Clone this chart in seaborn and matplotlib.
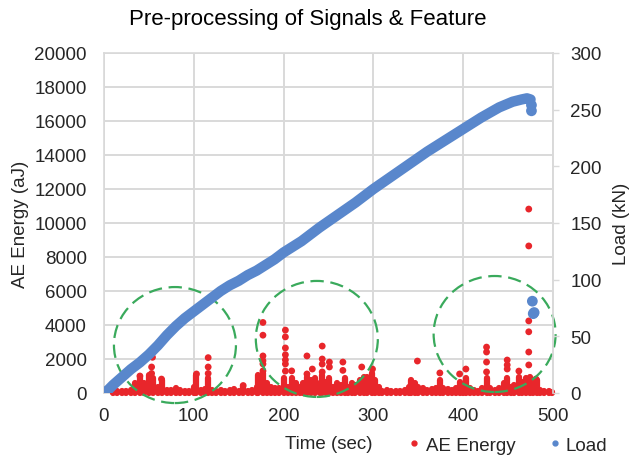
import matplotlib
matplotlib.use("Agg")
import matplotlib.pyplot as plt
import seaborn as sns
import pandas as pd
from matplotlib.patches import Ellipse
from matplotlib.lines import Line2D

# ---------------- data ----------------
band_time = [10, 15, 20, 25, 30, 35, 40, 45, 50, 55, 60, 65, 70, 75, 80, 85, 90, 95, 100, 103,
             108, 112, 116, 120, 125, 130, 135, 140, 145, 150, 155, 160, 165, 170, 172, 177, 182, 186, 190, 195,
             200, 205, 209, 214, 218, 222, 226, 230, 235, 240, 243, 247, 251, 255, 260, 264, 268, 272, 276, 280,
             285, 289, 293, 298, 302, 306, 310, 315, 320, 325, 330, 335, 340, 342, 346, 350, 355, 360, 365, 370,
             374, 378, 383, 388, 392, 396, 400, 403, 408, 412, 417, 421, 426, 430, 435, 440, 445, 449, 453, 457,
             462, 466, 470, 474, 478, 482, 486, 490, 495, 499]
band_energy = [60, 90, 90, 120, 170, 560, 950, 560, 1050, 860, 370, 760, 170, 170, 310, 170, 100, 120, 370, 1050,
               170, 230, 860, 170, 120, 170, 120, 150, 230, 130, 430, 120, 170, 370, 1050, 1150, 560, 370, 270, 270,
               860, 370, 860, 560, 370, 560, 950, 760, 860, 560, 1050, 660, 860, 370, 560, 470, 860, 370, 560, 470,
               760, 950, 950, 1150, 760, 370, 120, 170, 100, 120, 100, 170, 370, 760, 560, 370, 270, 170, 230, 270,
               760, 310, 230, 170, 270, 660, 310, 860, 270, 170, 130, 270, 860, 270, 170, 310, 560, 860, 370, 470,
               950, 660, 860, 950, 760, 760, 170, 100, 100, 80]

spike_time = [40, 53, 53, 54, 64, 103, 116, 116, 116, 155,
              177, 177, 177, 177, 177, 177, 202, 202, 202, 202, 202, 202, 202,
              209, 226, 226, 232, 243, 243, 243, 243, 251, 251, 266, 266, 287, 299,
              349, 374, 396, 403, 426, 426, 426, 426, 449, 449, 449, 462,
              473, 473, 473, 473, 473, 473, 476, 476, 479, 481]
spike_energy = [1000, 1150, 1530, 2100, 820, 1120, 2080, 1530, 1150, 440,
                4150, 3400, 2180, 1900, 1710, 1300, 3700, 3300, 2650, 2250, 1950, 1710, 1290,
                1300, 2180, 1120, 1410, 2760, 2000, 1700, 1240, 1820, 1530, 1820, 1330, 1530, 1410,
                1880, 1180, 1120, 1410, 2700, 2410, 1820, 1240, 1940, 1650, 1410, 1290,
                4240, 3600, 2410, 1650, 8650, 10820, 17300, 16600, 4700, 820]

load_time = [0, 5, 10, 20, 30, 40, 50, 60, 70, 80, 90, 100, 110, 120, 130, 140, 150, 160, 170, 180,
             190, 200, 210, 220, 240, 260, 280, 300, 320, 340, 360, 380, 400, 420, 440, 455, 465, 471, 475]
load_kn = [0, 3, 7, 14, 21, 27, 34, 42, 51, 59, 66, 72, 78, 84, 90, 95, 99, 104, 108, 113,
           118, 124, 129, 134, 146, 157, 168, 180, 191, 202, 213, 223, 233, 243, 252, 257, 259, 260, 259]
drop_time = [476, 476, 477, 478, 479]
drop_kn = [254, 249, 81, 70, 71]

x_ticks = [0, 100, 200, 300, 400, 500]
left_ticks = list(range(0, 20001, 2000))
right_ticks = list(range(0, 301, 50))

# ---------------- styling ----------------
sns.set_theme(style="white")
plt.rcParams['font.family'] = ['Liberation Sans', 'DejaVu Sans']

RED = '#e8262b'
BLUE = '#5987cc'
GREEN = '#3aaa5c'
GRID = '#d9d9d9'
TXT = '#262626'
FS = 13.5

fig = plt.figure(figsize=(6.29, 4.60), dpi=100)
ax = fig.add_axes([104 / 629, 66 / 460, 449 / 629, 340 / 460])
ax2 = ax.twinx()

ae_band = pd.DataFrame({'t': band_time, 'e': band_energy})
ae_spk = pd.DataFrame({'t': spike_time, 'e': spike_energy})
load_df = pd.DataFrame({'t': load_time, 'l': load_kn})
drop_df = pd.DataFrame({'t': drop_time, 'l': drop_kn})

# AE energy (left axis)
ax.vlines(ae_band['t'], 0, ae_band['e'], color=RED, linewidth=4.5, capstyle='round',
          zorder=3, clip_on=False)
sns.scatterplot(data=ae_spk, x='t', y='e', ax=ax, color=RED, s=24, edgecolor='none', zorder=4,
                clip_on=False)

# Load (right axis)
sns.lineplot(data=load_df, x='t', y='l', ax=ax2, color=BLUE, linewidth=7.5,
             solid_capstyle='round', zorder=3)
sns.scatterplot(data=drop_df, x='t', y='l', ax=ax2, color=BLUE, s=60, edgecolor='none', zorder=3)

ax.set_xlim(0, 500)
ax.set_ylim(0, 20000)
ax2.set_ylim(0, 300)
ax.set_xticks(x_ticks)
ax.set_yticks(left_ticks)
ax2.set_yticks(right_ticks)

ax.grid(True, color=GRID, linewidth=1.4)
ax2.grid(False)
for s in ax.spines.values():
    s.set_color(GRID)
    s.set_linewidth(1.2)
for name, s in ax2.spines.items():
    if name == 'right':
        s.set_color(GRID)
        s.set_linewidth(1.2)
    else:
        s.set_visible(False)

ax.tick_params(axis='both', length=0, labelsize=FS, colors=TXT)
ax.tick_params(axis='y', pad=12.5)
ax.tick_params(axis='x', pad=10)
ax2.tick_params(axis='y', length=4, width=1, color=GRID, labelsize=FS, labelcolor=TXT, pad=8.5)

ax.set_xlabel('Time (sec)', fontsize=FS, color=TXT, labelpad=8)
ax.set_ylabel('AE Energy (aJ)', fontsize=FS, color=TXT, labelpad=4)
ax2.set_ylabel('Load (kN)', fontsize=FS, color=TXT, labelpad=8)

# dashed green circles
for cx, cy in [(79, 2820), (237, 3180), (435, 3470)]:
    ell = Ellipse((cx, cy), width=2 * 61 / 0.898, height=2 * 58 / 0.017, fill=False,
                  edgecolor=GREEN, linewidth=1.6, linestyle=(0, (6, 3)), clip_on=False, zorder=5)
    ax.add_patch(ell)

fig.suptitle('Pre-processing of Signals & Feature', fontsize=16, color='black', x=0.49, y=0.981)

handles = [Line2D([], [], marker='o', linestyle='none', color=RED, markersize=3.5),
           Line2D([], [], marker='o', linestyle='none', color=BLUE, markersize=3.5)]
fig.legend(handles, ['AE Energy', 'Load'], loc='center', bbox_to_anchor=(0.805, 0.03), ncol=2,
           frameon=False, fontsize=FS, handletextpad=0.1, columnspacing=1.6, handlelength=1.0,
           labelcolor=TXT)

fig.savefig('out.png', dpi=100)
